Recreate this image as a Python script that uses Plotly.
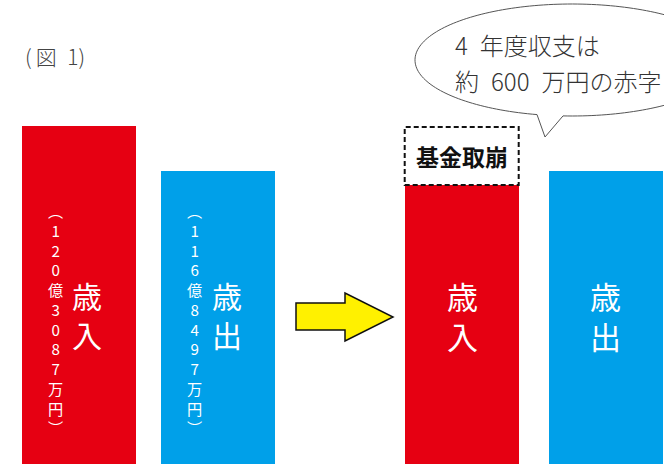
import numpy as np
import plotly.graph_objects as go

W, H = 664, 464

# ---- data (億円) ----
labels = ["歳入", "歳出", "歳入", "歳出"]
amounts = [120.3087, 116.8497, 115.77, 116.8497]
fund_drawdown = 4.46          # 基金取崩 stacked on bar 3
bar_colors = ["#E60012", "#00A0E9", "#E60012", "#00A0E9"]
detail_texts = ["120億3087万円", "116億8497万円"]
title_text = "(\u2009図\u20021)"
bubble_lines = ["4\u2002年度収支は", "約\u2002600\u2002万円の赤字"]
fund_label = "基金取崩"

# ---- layout positions (pixel-like x axis) ----
bar_x = [78.7, 218.2, 461.7, 605.5]
bar_w = 114
y_range = [94.33, 130.0]


def py(p):
    """pixel row -> paper y"""
    return 1 - p / H


def vertical(s):
    """stack characters top-to-bottom"""
    return "<br>".join(s)


fig = go.Figure()
fig.add_trace(go.Bar(
    x=bar_x, y=amounts, width=bar_w,
    marker=dict(color=bar_colors, line=dict(width=0)),
    hoverinfo="skip", showlegend=False,
))

shapes = []
annotations = []


def note(x, y_px, text, size, color, weight=None, xanchor="center"):
    f = dict(size=size, color=color, family="Noto Sans CJK JP")
    if weight:
        f["weight"] = weight
    annotations.append(dict(
        x=x, y=py(y_px), xref="x", yref="paper",
        xanchor=xanchor, yanchor="middle",
        text=text, showarrow=False, font=f,
    ))


# dashed fund drawdown box
shapes.append(dict(
    type="rect", xref="x", yref="y",
    x0=bar_x[2] - bar_w / 2, x1=bar_x[2] + bar_w / 2,
    y0=amounts[2], y1=amounts[2] + fund_drawdown,
    line=dict(color="#111111", width=2, dash="5px,3px"),
    fillcolor="white", layer="above",
))
note(bar_x[2], 156, f"<b>{fund_label}</b>", 23, "#111111")

# yellow arrow
arrow_pts = [(296, 303), (345, 303), (345, 293), (393, 317),
             (345, 341), (345, 330), (296, 330)]
path = "M " + " L ".join(f"{x},{py(y)}" for x, y in arrow_pts) + " Z"
shapes.append(dict(type="path", xref="x", yref="paper", path=path,
                   fillcolor="#FFF100", line=dict(color="#111111", width=1.5)))

# speech bubble
cx, cy, rx, ry = 572, 60, 157, 56
t_right = np.degrees(np.arccos((563 - cx) / rx))
t_left = np.degrees(np.arccos((537 - cx) / rx))
thetas = np.radians(np.linspace(t_right, t_left - 360, 200))
pts = [(cx + rx * np.cos(t), cy + ry * np.sin(t)) for t in thetas]
pts.append((545, 137))
bpath = "M " + " L ".join(f"{x:.2f},{py(y):.5f}" for x, y in pts) + " Z"
shapes.append(dict(type="path", xref="x", yref="paper", path=bpath,
                   fillcolor="white", line=dict(color="#555555", width=1)))

for line, yc in zip(bubble_lines, [44, 81]):
    note(453, yc, line, 24, "#333333", weight=300, xanchor="left")

# title
note(23, 56, title_text, 21, "#444444", weight=300, xanchor="left")

# vertical detail text in first two bars
detail_x = [55, 194]
for txt, dx in zip(detail_texts, detail_x):
    chars = ["︵"] + list(txt) + ["︶"]
    note(dx, 318, vertical(chars), 15.2, "white")

# big vertical labels
label_x = [87, 227, 462, 605]
label_size = [30, 30, 31, 31]
label_yc = [314, 314, 315, 315]
for lab, lx, ls, yc in zip(labels, label_x, label_size, label_yc):
    note(lx, yc, vertical(lab), ls, "white")

fig.update_layout(
    width=W, height=H,
    margin=dict(l=0, r=0, t=0, b=0),
    paper_bgcolor="white", plot_bgcolor="white",
    xaxis=dict(range=[0, W], visible=False, fixedrange=True),
    yaxis=dict(range=y_range, visible=False, fixedrange=True),
    shapes=shapes, annotations=annotations,
    bargap=0,
)

fig.write_html("out.html", config={"displayModeBar": False},
               post_script="document.body.style.margin='0';document.body.style.overflow='hidden';")
